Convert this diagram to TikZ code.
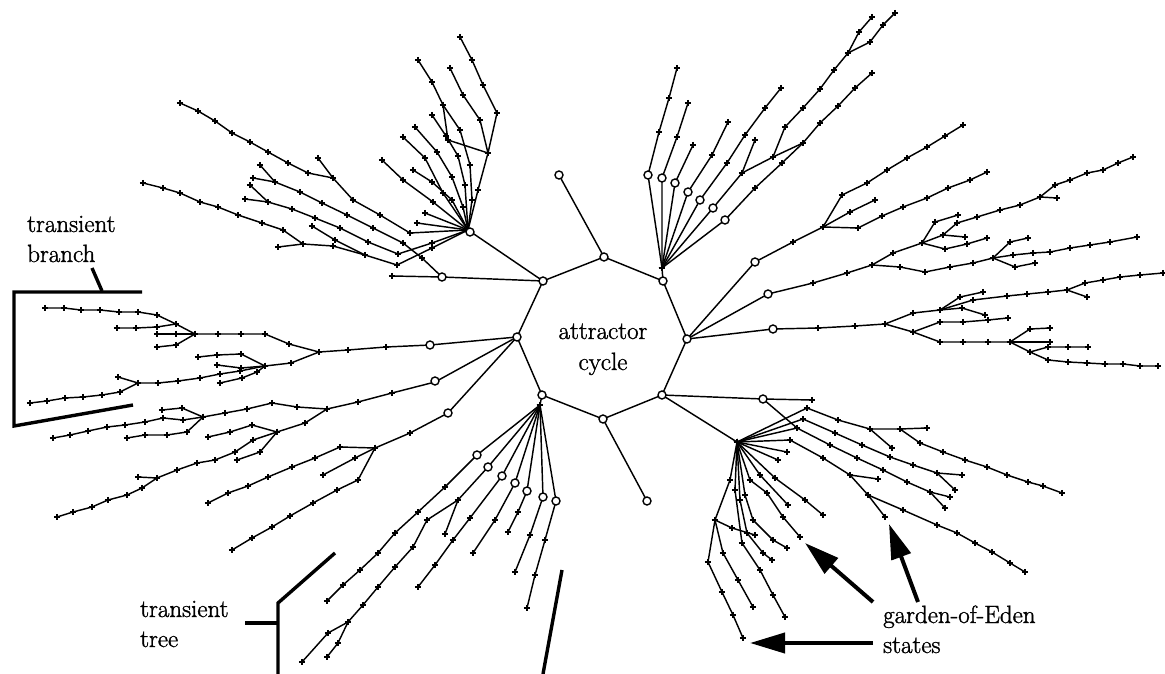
\documentclass[tikz,border=0pt]{standalone}
\usepackage{fontspec}
\newfontfamily\lblfont{Latin Modern Roman}[RawFeature={embolden=1.3}]
\usetikzlibrary{arrows.meta}
\newcommand\brch[1]{\draw[ln] plot[mark=+, mark size=3.1pt, mark options={solid, line width=1.35pt}] coordinates {#1};}
\newcommand\cir[1]{\draw[cr] #1 circle[radius=4pt];}
\begin{document}
\begin{tikzpicture}[x=1pt,y=-1pt,
  ln/.style={line width=1.45pt, black, line join=round},
  cr/.style={line width=1.4pt, black, fill=white},
  brk/.style={line width=3.4pt, black},
  arr/.style={line width=4pt, black, -{Triangle[length=35pt,width=20pt]}},
  lbl/.style={inner sep=0pt, font=\lblfont\fontsize{25}{30}\selectfont}]
\useasboundingbox (0,0) rectangle (1165,674);
\fill[white] (0,0) rectangle (1165,674);
% attractor cycle states
\coordinate (V1) at (604,257);
\coordinate (V2) at (663,281);
\coordinate (V3) at (687,339);
\coordinate (V4) at (662,395);
\coordinate (V5) at (603,419);
\coordinate (V6) at (542,395);
\coordinate (V7) at (517,337);
\coordinate (V8) at (543,281);
\coordinate (H1) at (468,230);
\coordinate (H2) at (662,268);
\coordinate (H3) at (737,442);
\coordinate (H4) at (540,405);
\coordinate (T1) at (559,175);
\coordinate (T5) at (647,501);
\coordinate (C8) at (442,277);

% ---------- top-left fan (H1)
\brch{(460,37) (472,60) (483,85) (497,113) (488,153) (478,190) (468,230)}
\brch{(450,68) (463,95) (480,120) (488,153)}
\brch{(418,60) (432,82) (443,105) (460,130) (470,165) (472,200) (468,230)}
\brch{(443,105) (448,140) (488,153)}
\brch{(432,115) (446,136) (458,156) (465,185) (468,230)}
\brch{(415,127) (437,152) (452,177) (463,207) (468,230)}
\brch{(403,137) (425,158) (443,193) (468,230)}
\brch{(382,160) (403,180) (433,202) (468,230)}
\brch{(413,170) (432,182) (452,200) (468,230)}
\brch{(425,213) (468,230)}
\brch{(417,223) (468,230)}
\brch{(180,103) (198,111) (215,121) (232,133) (250,142) (268,152) (288,163) (308,173) (333,178) (353,200) (380,215) (410,233) (468,230)}
\brch{(318,158) (333,178)}
\brch{(260,165) (275,182)}
\brch{(253,178) (275,182) (300,192) (322,203) (347,215) (373,228) (403,243) (422,258) (442,277)}
\brch{(250,185) (268,202)}
\brch{(245,199) (268,202) (292,209) (315,218) (340,228) (368,242) (398,254) (432,243) (468,230)}
\brch{(143,183) (163,188) (180,193) (200,202) (218,207) (238,215) (262,223) (283,230) (303,244) (333,246) (365,255) (397,265) (432,248) (468,230)}
\brch{(278,247) (303,244)}
\brch{(312,226) (335,240) (365,255)}
\brch{(392,276) (442,277)}

% ---------- top-right fan (H2)
\brch{(677,68) (669,98) (659,132) (648,175) (662,268)}
\brch{(688,103) (677,137) (662,178) (662,268)}
\brch{(693,145) (675,183) (662,268)}
\brch{(728,122) (712,155) (688,192) (662,268)}
\brch{(781,88) (765,108) (745,135) (727,163) (700,200) (662,268)}
\brch{(755,140) (742,173) (713,208) (662,268)}
\brch{(895,13) (883,25) (870,42) (848,53)}
\brch{(872,17) (859,32) (848,53) (834,70) (820,89) (803,108) (785,127) (773,157) (742,173)}
\brch{(773,157) (803,143)}
\brch{(872,73) (855,88) (838,106) (820,123) (803,143) (782,163) (755,188) (725,220) (662,268)}

% ---------- right trees (V3)
\brch{(687,339) (755,262) (793,242) (823,227)}
\brch{(823,227) (842,195) (867,183) (887,170) (907,158) (927,147) (945,136) (963,125)}
\brch{(823,227) (850,212) (875,200)}
\brch{(823,227) (858,228) (882,216) (903,207) (927,198) (948,188) (970,180) (987,172)}
\brch{(687,339) (768,294) (813,283) (847,273) (872,265) (900,267) (925,272) (950,267) (973,263) (993,258)}
\brch{(993,258) (1010,242) (1028,238)}
\brch{(993,258) (1013,255) (1033,253) (1050,252) (1070,248) (1090,245) (1110,242) (1137,237)}
\brch{(993,258) (1015,267) (1035,263)}
\brch{(872,265) (893,253) (922,243)}
\brch{(922,243) (935,222) (958,215)}
\brch{(922,243) (943,235) (957,223) (977,217) (1000,210) (1020,205) (1040,197) (1055,185) (1070,180) (1087,173) (1103,170) (1118,163) (1133,157)}
\brch{(943,235) (965,237)}
\brch{(1040,197) (1057,198)}
\brch{(922,243) (945,249) (967,244) (987,238)}
\brch{(687,339) (773,329) (818,328) (855,326) (885,324)}
\brch{(885,324) (913,313) (940,310) (962,308) (985,315)}
\brch{(940,310) (960,297) (983,292)}
\brch{(940,310) (973,300) (1007,296) (1027,294) (1048,292) (1067,290) (1085,283) (1103,280) (1120,277) (1140,275) (1163,273)}
\brch{(1067,290) (1087,297)}
\brch{(885,324) (913,332) (940,342) (963,342) (988,342) (1010,342)}
\brch{(913,332) (940,322) (963,322) (988,320) (1008,318)}
\brch{(1010,342) (1030,329) (1050,328)}
\brch{(1010,342) (1050,342)}
\brch{(1010,342) (1030,352) (1048,360) (1068,362) (1087,363) (1105,364) (1123,364) (1140,366) (1158,366)}
\brch{(1030,352) (1048,347) (1068,347) (1088,347)}

% ---------- bottom-right fan (V4, H3)
\brch{(662,395) (763,399) (812,400)}
\brch{(763,399) (797,428)}
\brch{(737,442) (807,408) (838,420) (870,429) (900,429) (927,428)}
\brch{(900,429) (920,443) (943,452) (965,460) (987,467) (1007,475) (1028,482) (1043,486) (1062,493)}
\brch{(870,429) (892,448)}
\brch{(737,442) (803,419) (835,433) (862,445) (890,457) (913,465) (937,473) (962,475)}
\brch{(937,473) (955,490)}
\brch{(737,442) (797,428) (830,445) (857,458) (883,470) (907,482) (930,492) (950,497)}
\brch{(930,492) (945,508)}
\brch{(737,442) (790,440) (823,458) (850,475) (878,479)}
\brch{(850,475) (868,495) (903,510) (937,525) (957,533) (975,543) (992,552) (1010,563) (1025,572)}
\brch{(868,495) (885,517)}
\brch{(737,442) (730,480) (715,520) (708,562) (722,592) (733,615) (743,638)}
\brch{(715,520) (723,553) (738,580) (753,607)}
\brch{(715,520) (732,528) (755,535)}
\brch{(737,442) (735,490) (742,543) (760,570) (773,595) (785,617)}
\brch{(737,442) (740,500) (747,533) (763,553) (772,560)}
\brch{(737,442) (745,495) (753,520) (773,540) (787,548)}
\brch{(737,442) (750,480) (767,493) (783,517) (800,537)}
\brch{(737,442) (760,475) (788,505)}
\brch{(737,442) (775,478) (805,500) (823,515)}
\brch{(737,442) (778,460)}
\brch{(737,442) (787,452)}

% ---------- bottom-left fan (V6, H4)
\brch{(540,405) (477,455) (445,487) (418,512) (395,533) (378,553) (360,570) (343,585) (327,601)}
\brch{(540,405) (488,467) (458,500) (445,534)}
\brch{(458,500) (427,520) (413,547) (395,567) (378,587) (363,605) (348,622) (328,633) (302,662)}
\brch{(348,622) (338,643) (327,657)}
\brch{(540,405) (502,476) (470,518) (453,540) (435,565) (418,587)}
\brch{(540,405) (515,483) (495,520) (473,553)}
\brch{(540,405) (527,491) (518,512) (508,532)}
\brch{(540,405) (543,497) (530,535) (515,572)}
\brch{(540,405) (556,501) (545,540) (535,575) (527,608)}

% ---------- left trees (V7)
\brch{(517,337) (430,345) (386,347) (348,350) (319,352)}
\brch{(319,352) (289,344) (265,334) (241,334) (218,334) (195,334)}
\brch{(195,334) (176,324) (157,315) (138,312) (119,312) (100,310) (81,310) (64,308) (45,308)}
\brch{(176,324) (157,327) (136,328) (117,328)}
\brch{(195,334) (176,334) (157,334)}
\brch{(195,334) (176,345) (157,347)}
\brch{(319,352) (291,363) (265,366)}
\brch{(265,366) (241,354) (217,355) (198,357)}
\brch{(265,366) (241,368) (217,365)}
\brch{(265,366) (257,372) (242,378) (220,383)}
\brch{(265,366) (240,371) (220,374) (200,378) (178,381) (158,383) (138,383) (120,392) (102,395) (83,397) (65,398) (47,401) (30,403)}
\brch{(118,377) (138,383)}
\brch{(517,337) (435,382) (392,393) (358,402) (327,409)}
\brch{(327,409) (297,407) (272,403) (247,409) (225,413) (203,417)}
\brch{(203,417) (182,408) (162,410)}
\brch{(203,417) (183,420) (163,418) (145,422) (125,425) (107,427) (88,431) (70,435) (53,438)}
\brch{(203,417) (187,432) (167,435) (145,435) (127,438)}
\brch{(327,409) (305,423) (277,432)}
\brch{(277,432) (252,425) (230,432) (208,437)}
\brch{(277,432) (260,452) (237,460)}
\brch{(277,432) (253,440) (235,452) (215,460) (197,463) (177,470) (157,478) (142,488) (127,495) (108,500) (92,507) (73,512) (57,517)}
\brch{(138,477) (157,478)}
\brch{(517,337) (448,413) (410,433) (375,448)}
\brch{(375,448) (340,447) (315,458) (292,467) (268,477) (248,486) (228,493) (208,503)}
\brch{(375,448) (355,458) (323,475)}
\brch{(375,448) (358,480) (337,490) (313,503) (290,516) (272,527) (252,538) (232,550)}

% ---------- cycle and direct connections
\draw[ln] (V1)--(V2)--(V3)--(V4)--(V5)--(V6)--(V7)--(V8)--cycle;
\draw[ln] (V8)--(H1) (V2)--(H2) (V4)--(H3) (V6)--(H4);
\draw[ln] (V1)--(T1) (V5)--(T5) (C8)--(V8);

% ---------- circled states
\foreach \p in {(V1),(V2),(V3),(V4),(V5),(V6),(V7),(V8),(T1),(T5),(C8),
  (470,232),
  (648,175),(662,178),(675,183),(688,192),(700,200),(713,208),(725,220),
  (755,262),(768,294),(773,329),(763,399),
  (430,345),(435,381),(448,413),
  (477,455),(488,467),(502,476),(515,483),(527,491),(543,497),(556,501)}
  {\cir{\p}}

% ---------- labels
\node[lbl, anchor=base] (ac1) at (603,339) {attractor};
\node[lbl, anchor=base] (ac2) at (603,370) {cycle};
\node[lbl, anchor=base west] (tb1) at (27,232) {transient};
\node[lbl, anchor=base west] (tb2) at (27,262) {branch};
\node[lbl, anchor=base west] (tt1) at (140,617) {transient};
\node[lbl, anchor=base west] (tt2) at (140,647) {tree};
\node[lbl, anchor=base west] (ge1) at (883,623) {garden-of-Eden};
\node[lbl, anchor=base west] (ge2) at (883,653) {states};

% ---------- brackets
\draw[brk] (142,292) -- (14,292) -- (14,426) -- (133,405);
\draw[brk] (92,268) -- (102,291);
\draw[brk] (335,553) -- (278,603) -- (278,674);
\draw[brk] (245,623) -- (278,623);
\draw[brk] (562,570) -- (543,674);

% ---------- arrows to garden-of-Eden states
\coordinate (A1s) at (873,602); \coordinate (A1t) at (805,543);
\coordinate (A2s) at (918,602); \coordinate (A2t) at (889,524);
\coordinate (A3s) at (873,643); \coordinate (A3t) at (750,643);
\draw[arr] (A1s) -- (A1t);
\draw[arr] (A2s) -- (A2t);
\draw[arr] (A3s) -- (A3t);
\end{tikzpicture}
\end{document}
